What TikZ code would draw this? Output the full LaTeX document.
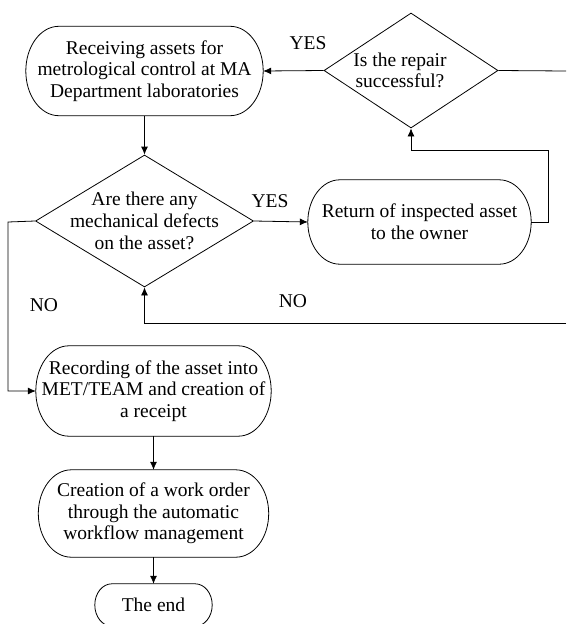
\documentclass[tikz,border=0pt]{standalone}
\usepackage{fontspec}
\setmainfont{Liberation Serif}
\usetikzlibrary{shapes.geometric,arrows.meta,calc}

\begin{document}
\begin{tikzpicture}[
            x = 1pt, y = -1pt,
            every node/.style={font=\fontsize{19.5}{21.7}\selectfont, align=center, inner sep=0pt},
            term/.style={rectangle},
            decision/.style={draw, diamond, line width=.8pt, inner sep=-25pt},
            line/.style={line width = .8pt},
            arrow/.style={line, -{Latex[length=8pt,width=7pt]}},
            ]

        \useasboundingbox (0,0) rectangle (566,624);

        \node[term, minimum width=237pt, minimum height=89pt] (recv) at (144.5,71)
            {Receiving assets for\\metrological control at MA\\Department laboratories};
        \node[decision, minimum width=174pt, minimum height=115pt] (rep) at (411,70.5)
            {Is the repair\rule{22pt}{0pt}\\successful?\rule{22pt}{0pt}};
        \node[decision, minimum width=218pt, minimum height=132pt] (def) at (144.5,221)
            {Are there any\\mechanical defects\\on the asset?};
        \node[term, minimum width=223pt, minimum height=84pt] (ret) at (419.5,222)
            {Return of inspected asset\\to the owner};
        \node[term, minimum width=235pt, minimum height=90pt] (rec) at (153.5,391)
            {Recording of the asset into\\MET/TEAM and creation of\\a receipt};
        \node[term, minimum width=230pt, minimum height=87pt] (cre) at (153.5,513.5)
            {Creation of a work order\\through the automatic\\workflow management};
        \node[term, minimum width=117pt, minimum height=42pt] (end) at (153.5,605) {The end};

        % outlines with half-elliptic ends
        \foreach \nd/\rx in {recv/33pt, ret/32pt, rec/33pt, cre/33pt, end/17pt}
            \draw[line] let \p1=(\nd.north west), \p2=(\nd.south east), \n1={(\y1-\y2)/2} in
                (\x1+\rx,\y1) -- (\x2-\rx,\y1)
                arc[start angle=90, end angle=-90, x radius=\rx, y radius=\n1]
                -- (\x1+\rx,\y2)
                arc[start angle=270, end angle=90, x radius=\rx, y radius=\n1] -- cycle;

        % answers
        \node (yes1) at (308,43) {YES};
        \node (yes2) at (270,201) {YES};
        \node (no1) at (44,305) {NO};
        \node (no2) at (293,301) {NO};

        % loose ends and bends
        \coordinate (out1) at (566,71);
        \coordinate (out2) at (566,323);
        \coordinate (k1) at (548,150);
        \coordinate (k2) at (8,222);

        \draw[arrow] (rep.west) -- (recv.east);
        \draw[line] (rep.east) -- (out1);
        \draw[arrow] (recv.south) -- (def.north);
        \draw[arrow] (def.east) -- (ret.west);
        \draw[arrow] (ret.east) -| (k1) -| (rep.south);
        \draw[arrow] (def.west) -- (k2) |- (rec.west);
        \draw[arrow] (out2) -| (def.south);
        \draw[arrow] (rec.south) -- (cre.north);
        \draw[arrow] (cre.south) -- (end.north);
    \end{tikzpicture}
\end{document}
